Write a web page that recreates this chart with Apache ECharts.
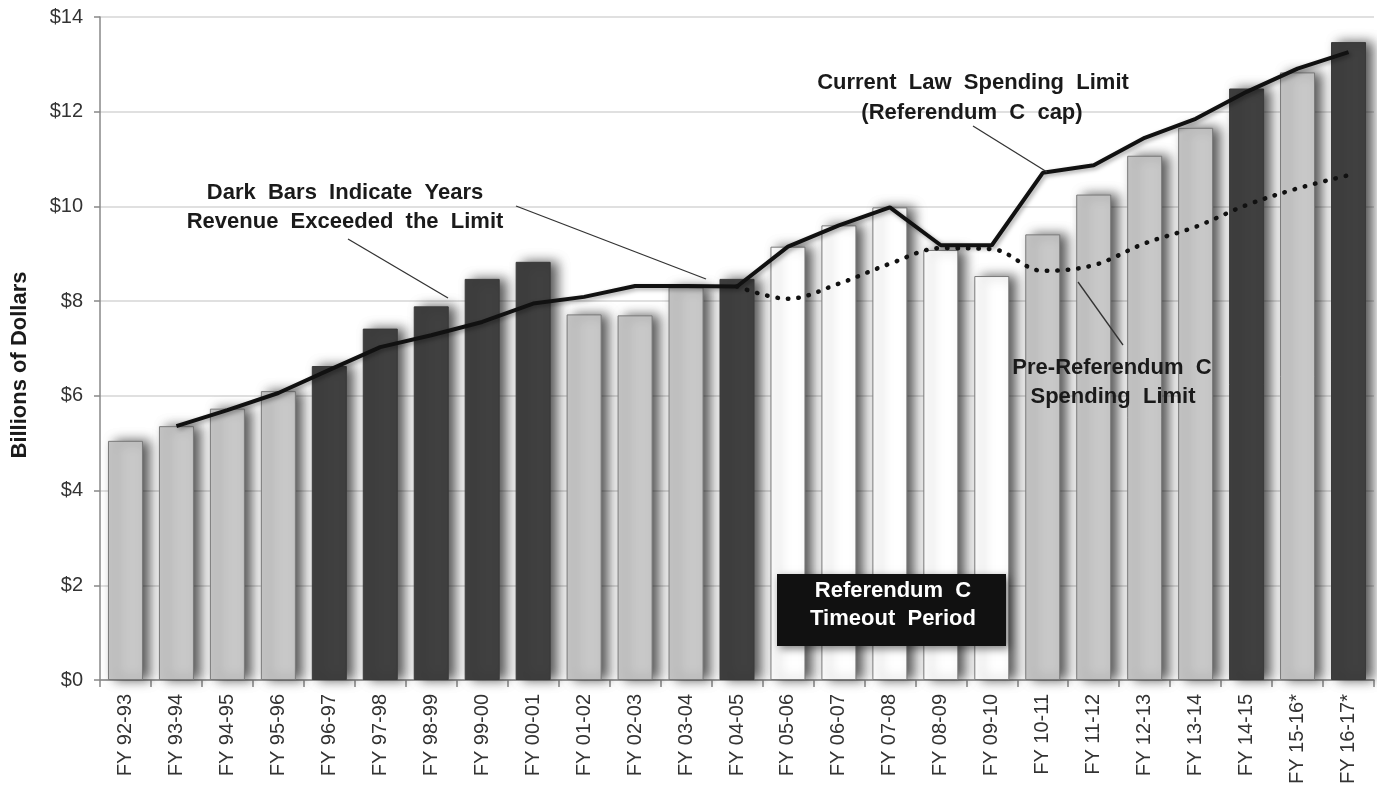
<!DOCTYPE html>
<html>
<head>
<meta charset="utf-8">
<script src="https://cdn.jsdelivr.net/npm/echarts@6/dist/echarts.min.js"></script>
<style>
html,body{margin:0;padding:0;background:#fff;}
#chart{width:1377px;height:792px;}
</style>
</head>
<body>
<div id="chart"></div>
<script>
// ---- data ----
const categories = ['FY 92-93','FY 93-94','FY 94-95','FY 95-96','FY 96-97','FY 97-98','FY 98-99','FY 99-00','FY 00-01','FY 01-02','FY 02-03','FY 03-04','FY 04-05','FY 05-06','FY 06-07','FY 07-08','FY 08-09','FY 09-10','FY 10-11','FY 11-12','FY 12-13','FY 13-14','FY 14-15','FY 15-16*','FY 16-17*'];
const revenue = [5.05,5.36,5.73,6.10,6.63,7.42,7.89,8.47,8.83,7.72,7.70,8.29,8.47,9.15,9.60,9.98,9.08,8.53,9.41,10.25,11.07,11.66,12.49,12.83,13.47];
// D = exceeded limit (dark), L = under limit (light), W = Referendum C timeout (white)
const barKind = ['L','L','L','L','D','D','D','D','D','L','L','L','D','W','W','W','W','W','L','L','L','L','D','L','D'];
const currentLimit = [null,5.36,5.70,6.06,6.55,7.03,7.28,7.56,7.95,8.09,8.32,8.32,8.31,9.15,9.60,9.98,9.18,9.18,10.71,10.87,11.45,11.85,12.42,12.91,13.26];
const preRefCLimit = [null,null,null,null,null,null,null,null,null,null,null,null,8.31,8.05,8.37,8.79,9.12,9.10,8.64,8.76,9.22,9.57,10.03,10.38,10.66];
const yTicks = [0,2,4,6,8,10,12,14];

const kindStyle = {
  D: {color:'#404040', borderColor:'#3a3a3a', borderWidth:1},
  L: {color:'#c8c8c8', borderColor:'#7a7a7a', borderWidth:1},
  W: {color:'#ffffff', borderColor:'#7a7a7a', borderWidth:1}
};
const barData = revenue.map((v,i)=>({value:v, itemStyle:kindStyle[barKind[i]]}));

const FONT = '"Liberation Sans", Arial, sans-serif';
const chart = echarts.init(document.getElementById('chart'), null, {renderer:'canvas'});

const annoStyle = {fontFamily:FONT, fontWeight:'bold', fontSize:22, fill:'#1a1a1a', textAlign:'center', textVerticalAlign:'middle'};
function txt(x,y,t,extra){return {type:'text', x:x, y:y, z:100, style:Object.assign({}, annoStyle, {text:t}, extra||{})};}
function seg(x1,y1,x2,y2){return {type:'line', z:100, shape:{x1:x1,y1:y1,x2:x2,y2:y2}, style:{stroke:'#333', lineWidth:1.3}};}

chart.setOption({
  animation:false,
  backgroundColor:'#ffffff',
  grid:{left:100, right:3, top:17, bottom:112, containLabel:false},
  xAxis:{
    type:'category', data:categories, boundaryGap:true,
    axisLine:{show:true, lineStyle:{color:'#888', width:1.5}},
    axisTick:{show:true, alignWithLabel:false, length:7, lineStyle:{color:'#888', width:1.5}},
    axisLabel:{rotate:90, fontSize:20, fontFamily:FONT, color:'#333', margin:14, interval:0},
    splitLine:{show:false}
  },
  yAxis:{
    type:'value', min:0, max:14, interval:2,
    axisLine:{show:true, lineStyle:{color:'#888', width:1.5}},
    axisTick:{show:true, length:6, lineStyle:{color:'#888', width:1.5}},
    axisLabel:{fontSize:20, fontFamily:FONT, color:'#333', margin:17,
      formatter:function(v){return yTicks.indexOf(v)>=0 ? '$'+v : '';}},
    splitLine:{show:true, lineStyle:{color:'#d6d6d6', width:1.5}}
  },
  series:[
    {type:'bar', data:barData, barWidth:35, z:2,
      itemStyle:{shadowColor:'rgba(0,0,0,0.65)', shadowBlur:12, shadowOffsetX:7, shadowOffsetY:0}},
    {type:'line', data:currentLimit, symbol:'none', z:5, connectNulls:false,
      lineStyle:{color:'#111', width:4, shadowColor:'rgba(0,0,0,0.35)', shadowBlur:4, shadowOffsetX:2, shadowOffsetY:2}},
    {type:'line', data:preRefCLimit, symbol:'none', z:5, smooth:0.35,
      lineStyle:{color:'#111', width:4.5, type:[0.5,10], cap:'round'}}
  ],
  graphic:[
    {type:'text', x:20, y:365, rotation:Math.PI/2, z:100,
      style:{text:'Billions of Dollars', fontFamily:FONT, fontWeight:'bold', fontSize:22, fill:'#1a1a1a', textAlign:'center', textVerticalAlign:'middle'}},
    txt(345,193,'Dark  Bars  Indicate  Years'),
    txt(345,222,'Revenue  Exceeded  the  Limit'),
    seg(348,239,448,298),
    seg(516,206,706,279),
    txt(973,83,'Current  Law  Spending  Limit'),
    txt(972,113,'(Referendum  C  cap)'),
    seg(973,126,1047,172),
    txt(1112,368,'Pre-Referendum  C'),
    txt(1113,397,'Spending  Limit'),
    seg(1078,282,1123,345),
    {type:'rect', z:90, shape:{x:777, y:574, width:229, height:72},
      style:{fill:'#111111', shadowColor:'rgba(0,0,0,0.5)', shadowBlur:8, shadowOffsetX:3, shadowOffsetY:3}},
    txt(893,591,'Referendum  C',{fill:'#ffffff'}),
    txt(893,619,'Timeout  Period',{fill:'#ffffff'})
  ]
});
</script>
</body>
</html>
